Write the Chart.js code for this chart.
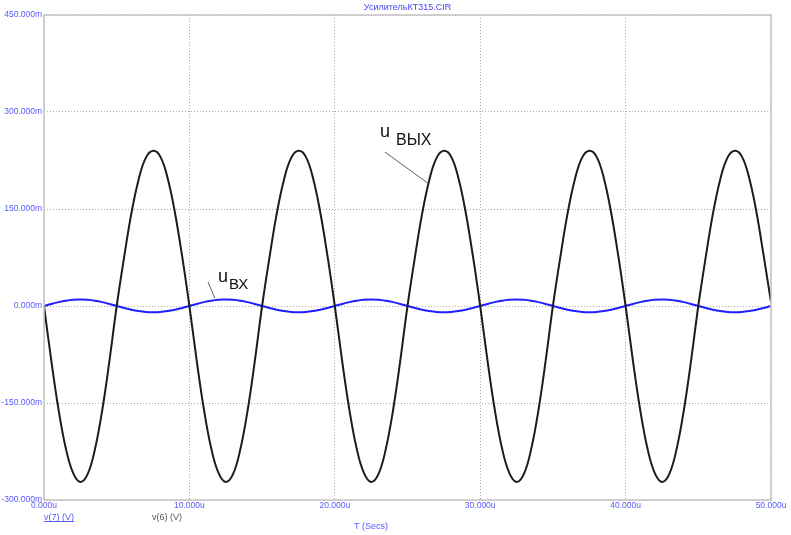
<!DOCTYPE html>
<html>
<head>
<meta charset="utf-8">
<script src="https://cdn.jsdelivr.net/npm/chart.js@4.4.1/dist/chart.umd.min.js"></script>
<style>
  html, body { margin: 0; padding: 0; background: #ffffff; }
  #wrap { position: relative; width: 791px; height: 535px; }
</style>
</head>
<body>
<div id="wrap"><canvas id="c" width="791" height="535"></canvas></div>
<script>
// Transient analysis of the KT315 amplifier stage: output v(6) and input v(7)
const chartTitle = 'УсилительКТ315.CIR';

// Time samples, microseconds
const timeUs = [
  0, 0.5, 1, 1.5, 2, 2.5, 3, 3.5, 4, 4.5, 5, 5.5, 6, 6.5, 7, 7.5, 8, 8.5, 9, 9.5,
  10, 10.5, 11, 11.5, 12, 12.5, 13, 13.5, 14, 14.5, 15, 15.5, 16, 16.5, 17, 17.5, 18, 18.5, 19, 19.5,
  20, 20.5, 21, 21.5, 22, 22.5, 23, 23.5, 24, 24.5, 25, 25.5, 26, 26.5, 27, 27.5, 28, 28.5, 29, 29.5,
  30, 30.5, 31, 31.5, 32, 32.5, 33, 33.5, 34, 34.5, 35, 35.5, 36, 36.5, 37, 37.5, 38, 38.5, 39, 39.5,
  40, 40.5, 41, 41.5, 42, 42.5, 43, 43.5, 44, 44.5, 45, 45.5, 46, 46.5, 47, 47.5, 48, 48.5, 49, 49.5,
  50
];

// Output voltage v(6), millivolts
const vOut = [
  0, -84, -160, -220, -258, -272, -260, -222, -162, -85, 0, 74, 142, 195, 229, 240, 231, 198, 145, 77,
  0, -84, -160, -220, -258, -272, -260, -222, -162, -85, 0, 74, 142, 195, 229, 240, 231, 198, 145, 77,
  0, -84, -160, -220, -258, -272, -260, -222, -162, -85, 0, 74, 142, 195, 229, 240, 231, 198, 145, 77,
  0, -84, -160, -220, -258, -272, -260, -222, -162, -85, 0, 74, 142, 195, 229, 240, 231, 198, 145, 77,
  0, -84, -160, -220, -258, -272, -260, -222, -162, -85, 0, 74, 142, 195, 229, 240, 231, 198, 145, 77,
  6
];

// Input voltage v(7), millivolts
const vIn = [
  0, 3.2, 6.0, 8.2, 9.6, 10.1, 9.6, 8.2, 6.0, 3.2, 0, -3.0, -5.7, -7.8, -9.2, -9.6, -9.2, -7.8, -5.7, -3.0,
  0, 3.2, 6.0, 8.2, 9.6, 10.1, 9.6, 8.2, 6.0, 3.2, 0, -3.0, -5.7, -7.8, -9.2, -9.6, -9.2, -7.8, -5.7, -3.0,
  0, 3.2, 6.0, 8.2, 9.6, 10.1, 9.6, 8.2, 6.0, 3.2, 0, -3.0, -5.7, -7.8, -9.2, -9.6, -9.2, -7.8, -5.7, -3.0,
  0, 3.2, 6.0, 8.2, 9.6, 10.1, 9.6, 8.2, 6.0, 3.2, 0, -3.0, -5.7, -7.8, -9.2, -9.6, -9.2, -7.8, -5.7, -3.0,
  0, 3.2, 6.0, 8.2, 9.6, 10.1, 9.6, 8.2, 6.0, 3.2, 0, -3.0, -5.7, -7.8, -9.2, -9.6, -9.2, -7.8, -5.7, -3.0,
  0
];

// Axis ranges and tick steps
const yRangeMv = [-300, 450];
const yStepMv = 150;
const xRangeUs = [0, 50];
const xStepUs = 10;

// Curve labels: text, anchor on the curve (us, mV), leader start (us, mV)
const curveLabels = [
  { main: 'u', sub: 'ВЫХ', at: [26.40, 190], from: [23.45, 238] },
  { main: 'u', sub: 'ВХ',  at: [11.75, 12],  from: [11.28, 37] }
];

// Footer legend texts
const traceNames = ['v(7) (V)', 'v(6) (V)'];
const xAxisTitle = 'T (Secs)';

const FONT = '"Liberation Sans", Arial, sans-serif';
const TICK_BLUE = '#5a5aff';
const GRID_GREY = '#a8a8a8';

const toPoints = (xs, ys) => xs.map((x, i) => ({ x: x, y: ys[i] }));

const decorPlugin = {
  id: 'decor',
  beforeDraw(chart) {
    const ctx = chart.ctx;
    ctx.save();
    ctx.fillStyle = '#ffffff';
    ctx.fillRect(0, 0, chart.width, chart.height);
    ctx.restore();
  },
  afterDraw(chart) {
    const ctx = chart.ctx;
    const a = chart.chartArea;
    const xs = chart.scales.x, ys = chart.scales.y;
    ctx.save();

    // frame around the plot
    ctx.strokeStyle = '#c4c4c4';
    ctx.lineWidth = 1.5;
    ctx.strokeRect(a.left, a.top, a.right - a.left, a.bottom - a.top);

    // title
    ctx.fillStyle = '#4646f0';
    ctx.font = '9px ' + FONT;
    ctx.textAlign = 'center';
    ctx.textBaseline = 'alphabetic';
    ctx.fillText(chartTitle, (a.left + a.right) / 2, 10);

    // leader lines and curve labels
    curveLabels.forEach((lb, i) => {
      const px = xs.getPixelForValue(lb.at[0]), py = ys.getPixelForValue(lb.at[1]);
      const fx = xs.getPixelForValue(lb.from[0]), fy = ys.getPixelForValue(lb.from[1]);
      ctx.strokeStyle = '#606060';
      ctx.lineWidth = 1;
      ctx.beginPath();
      ctx.moveTo(fx, fy);
      ctx.lineTo(px, py);
      ctx.stroke();

      ctx.fillStyle = '#111111';
      ctx.textAlign = 'left';
      if (i === 0) {
        ctx.font = '18px ' + FONT;
        ctx.fillText(lb.main, fx - 5, fy - 15);
        ctx.font = '16px ' + FONT;
        ctx.fillText(lb.sub, fx + 11, fy - 7);
      } else {
        ctx.font = '18px ' + FONT;
        ctx.fillText(lb.main, fx + 10, fy);
        ctx.font = '15px ' + FONT;
        ctx.fillText(lb.sub, fx + 21, fy + 7);
      }
    });

    // footer: trace names and time axis title
    ctx.font = '9px ' + FONT;
    ctx.textAlign = 'left';
    ctx.fillStyle = TICK_BLUE;
    const t0 = traceNames[0];
    ctx.fillText(t0, a.left, 520);
    const w0 = ctx.measureText(t0).width;
    ctx.strokeStyle = TICK_BLUE;
    ctx.lineWidth = 1;
    ctx.beginPath();
    ctx.moveTo(a.left, 521.5);
    ctx.lineTo(a.left + w0, 521.5);
    ctx.stroke();

    ctx.fillStyle = '#555555';
    ctx.fillText(traceNames[1], 152, 520);

    ctx.fillStyle = TICK_BLUE;
    ctx.textAlign = 'center';
    ctx.fillText(xAxisTitle, 371, 529);

    ctx.restore();
  }
};

new Chart(document.getElementById('c'), {
  type: 'line',
  data: {
    datasets: [
      {
        label: 'v(6)',
        data: toPoints(timeUs, vOut),
        borderColor: '#1c1c1c',
        borderWidth: 2,
        pointRadius: 0,
        tension: 0.4,
        order: 0
      },
      {
        label: 'v(7)',
        data: toPoints(timeUs, vIn),
        borderColor: '#1f1fff',
        borderWidth: 2,
        pointRadius: 0,
        tension: 0.4,
        order: 1
      }
    ]
  },
  options: {
    responsive: false,
    animation: false,
    devicePixelRatio: 1,
    layout: { padding: { top: 15, right: 20, left: 0, bottom: 0 } },
    plugins: {
      legend: { display: false },
      tooltip: { enabled: false },
      title: { display: false }
    },
    scales: {
      x: {
        type: 'linear',
        min: xRangeUs[0],
        max: xRangeUs[1],
        afterFit(s) { s.height = 35; },
        border: { display: false, dash: [1, 2] },
        grid: { color: GRID_GREY, lineWidth: 1, drawTicks: false },
        ticks: {
          stepSize: xStepUs,
          padding: 1,
          maxRotation: 0,
          autoSkip: false,
          color: TICK_BLUE,
          font: { family: FONT, size: 8.5 },
          callback: v => v.toFixed(3) + 'u'
        }
      },
      y: {
        type: 'linear',
        min: yRangeMv[0],
        max: yRangeMv[1],
        afterFit(s) { s.width = 44; },
        border: { display: false, dash: [1, 2] },
        grid: { color: GRID_GREY, lineWidth: 1, drawTicks: false },
        ticks: {
          stepSize: yStepMv,
          padding: 2,
          autoSkip: false,
          color: TICK_BLUE,
          font: { family: FONT, size: 8.5 },
          callback: v => v.toFixed(3) + 'm'
        }
      }
    }
  },
  plugins: [decorPlugin]
});
</script>
</body>
</html>
